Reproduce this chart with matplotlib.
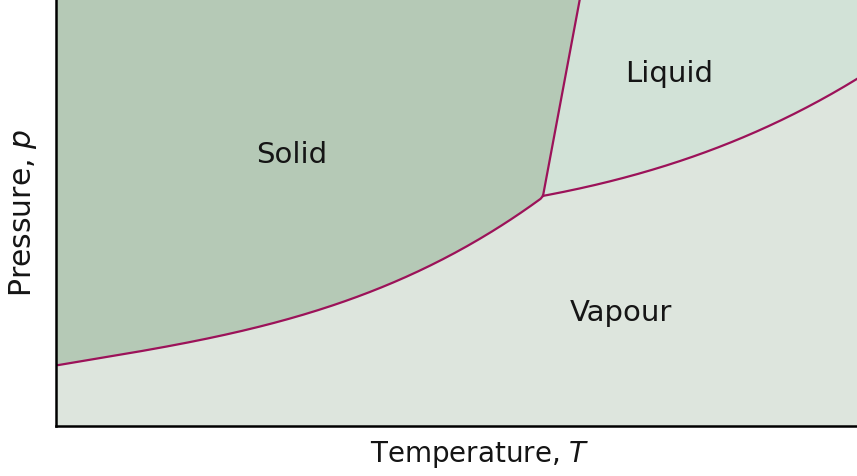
import numpy as np
import matplotlib.pyplot as plt

# schematic phase diagram, axes run 0..1 in both directions (no ticks)
# solid/vapour boundary (sublimation curve) up to the triple point
sub_T = [0.0, 0.117, 0.242, 0.367, 0.492, 0.542, 0.608]
sub_p = [0.143, 0.176, 0.227, 0.302, 0.396, 0.450, 0.539]

# liquid/vapour boundary from the triple point
vap_T = [0.608, 0.679, 0.804, 0.929, 1.0]
vap_p = [0.539, 0.567, 0.637, 0.738, 0.813]

# solid/liquid boundary (melting curve)
melt_T = [0.608, 0.654]
melt_p = [0.539, 1.0]

labels = ['Solid', 'Liquid', 'Vapour']
label_T = [0.294, 0.765, 0.705]
label_p = [0.638, 0.827, 0.268]

solid_col = '#b5c9b6'
liquid_col = '#d2e2d7'
vapour_col = '#dde5dd'
line_col = '#9c1259'

plt.rcParams['font.family'] = ['DejaVu Sans']
plt.rcParams['mathtext.fontset'] = 'dejavusans'

fig = plt.figure(figsize=(8.57, 4.77), dpi=100)
ax = fig.add_axes([56 / 857, 50 / 477, 1 - 56 / 857, 427 / 477])
ax.set_facecolor(liquid_col)

# smooth the curves a little so they don't look piecewise
def smooth(x, y, n=200):
    xs = np.linspace(x[0], x[-1], n)
    coef = np.polyfit(x, y, 3)
    return xs, np.polyval(coef, xs)

sT, sP = smooth(sub_T, sub_p)
vT, vP = smooth(vap_T, vap_p)
sP[0], sP[-1] = sub_p[0], sub_p[-1]
vP[0] = vap_p[0]

low_T = np.concatenate([sT, vT])
low_P = np.concatenate([sP, vP])
ax.fill_between(low_T, 0, low_P, color=vapour_col, lw=0)

# solid region: above sublimation curve, left of melting line
poly_T = np.concatenate([sT, melt_T[1:], [0.0]])
poly_P = np.concatenate([sP, melt_p[1:], [1.0]])
ax.fill(poly_T, poly_P, color=solid_col, lw=0)

ax.plot(sT, sP, color=line_col, lw=1.6)
ax.plot(vT, vP, color=line_col, lw=1.6)
ax.plot(melt_T, melt_p, color=line_col, lw=1.6)

for lab, t, p in zip(labels, label_T, label_p):
    ax.text(t, p, lab, fontsize=21, ha='center', va='center', color='#151515')

ax.set_xlim(0, 1)
ax.set_ylim(0, 1)
ax.set_xticks([])
ax.set_yticks([])
for s in ['top', 'right']:
    ax.spines[s].set_visible(False)
for s in ['left', 'bottom']:
    ax.spines[s].set_linewidth(1.8)

ax.set_xlabel('Temperature, $\\mathit{T}$', fontsize=20, labelpad=9, color='#151515')
ax.set_ylabel('Pressure, $\\mathit{p}$', fontsize=21.5, labelpad=12, color='#151515')
ax.xaxis.label.set_x(0.529)

fig.savefig('out.png', dpi=100)
